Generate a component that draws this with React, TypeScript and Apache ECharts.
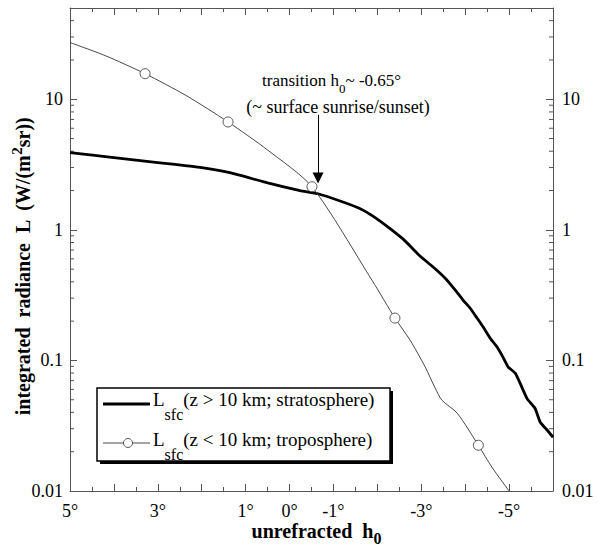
import React, { useEffect, useRef } from "react";
import * as echarts from "echarts";

// ---- data ----
const hStrat = [5, 4, 3, 2, 1.36, 0.5, -0.24, -0.65, -1.2, -1.61, -1.95, -2.29, -2.63, -2.97, -3.27, -3.54, -3.77, -3.95, -4.11, -4.27, -4.41, -4.57, -4.73, -4.86, -4.98, -5.14, -5.25, -5.41, -5.59, -5.71, -5.87, -6];
const vStrat = [3.9, 3.57, 3.27, 2.99, 2.74, 2.29, 2.0, 1.89, 1.64, 1.45, 1.24, 1.02, 0.823, 0.63, 0.52, 0.428, 0.347, 0.29, 0.252, 0.211, 0.18, 0.148, 0.126, 0.106, 0.089, 0.08, 0.067, 0.051, 0.043, 0.0336, 0.0292, 0.0258];

const hTropo = [5, 4.2, 3.29, 2.36, 1.4, 0.51, -0.51, -1.88, -2.4, -2.745, -3.09, -3.31, -3.47, -3.82, -4.3, -4.61, -5.0];
const vTropo = [27.2, 21.6, 15.7, 10.7, 6.7, 4.11, 2.14, 0.41, 0.211, 0.143, 0.089, 0.062, 0.0496, 0.0394, 0.0224, 0.0152, 0.01];
const tropoMarkerIdx = [2, 4, 6, 8, 14];

const xTickValues = [5, 3, 1, 0, -1, -3, -5];
const xTickLabels = ["5°", "3°", "1°", "0°", "-1°", "-3°", "-5°"];
const yTickValues = [0.01, 0.1, 1, 10];
const yTickLabels = ["0.01", "0.1", "1", "10"];
const yMinorTicks = [
  0.02, 0.03, 0.04, 0.05, 0.06, 0.07, 0.08, 0.09,
  0.2, 0.3, 0.4, 0.5, 0.6, 0.7, 0.8, 0.9,
  2, 3, 4, 5, 6, 7, 8, 9,
  20, 30, 40,
];

const transitionH = -0.65;
const arrowFrom = 7.6;
const arrowTo = 2.5;

const FONT = "Liberation Serif";
const AXIS_COLOR = "#555";

export default function App() {
  const ref = useRef<HTMLDivElement>(null);

  useEffect(() => {
    if (!ref.current) return;
    const chart = echarts.init(ref.current, null, { renderer: "svg" });

    const xFmt = (v: number) => {
      const i = xTickValues.findIndex((t) => Math.abs(t - v) < 1e-6);
      return i >= 0 ? xTickLabels[i] : "";
    };
    const yFmt = (v: number) => {
      const i = yTickValues.findIndex((t) => Math.abs(v / t - 1) < 1e-6);
      return i >= 0 ? yTickLabels[i] : "";
    };

    const xBase: any = {
      type: "value",
      min: -6,
      max: 5,
      interval: 1,
      inverse: true,
      axisLine: { show: true, onZero: false, lineStyle: { color: AXIS_COLOR, width: 1 } },
      axisTick: { show: true, inside: true, length: 7, lineStyle: { color: AXIS_COLOR } },
      minorTick: { show: true, splitNumber: 2, length: 4, lineStyle: { color: AXIS_COLOR } },
      splitLine: { show: false },
      minorSplitLine: { show: false },
    };
    const yBase: any = {
      type: "log",
      logBase: 10,
      min: 0.01,
      max: 50,
      axisLine: { show: true, onZero: false, lineStyle: { color: AXIS_COLOR, width: 1 } },
      axisTick: { show: true, inside: true, length: 7, lineStyle: { color: AXIS_COLOR } },
      splitLine: { show: false },
    };

    const tropoData = hTropo.map((h, i) =>
      tropoMarkerIdx.includes(i)
        ? { value: [h, vTropo[i]], symbol: "circle" }
        : { value: [h, vTropo[i]], symbol: "none" }
    );

    chart.setOption({
      animation: false,
      backgroundColor: "#fff",
      grid: { left: 70, right: 46, top: 8, bottom: 58, containLabel: false, outerBoundsMode: "none" },
      xAxis: [
        {
          ...xBase,
          position: "bottom",
          axisLabel: {
            show: true,
            margin: 11,
            lineHeight: 18,
            formatter: xFmt,
            fontFamily: FONT,
            fontSize: 18,
            color: "#000",
          },
          name: "{a|unrefracted  h}{s|0}",
          nameLocation: "middle",
          nameGap: 30,
          nameMoveOverlap: false,
          nameTextStyle: {
            padding: [0, 0, 0, 10],
            rich: {
              a: { fontFamily: FONT, fontSize: 20, fontWeight: "bold", lineHeight: 20, verticalAlign: "top", color: "#000" },
              s: { fontFamily: FONT, fontSize: 16, fontWeight: "bold", lineHeight: 16, padding: [9, 0, 0, 0], verticalAlign: "top", color: "#000" },
            },
          },
        },
        {
          ...xBase,
          position: "top",
          axisLabel: { show: false },
        },
      ],
      yAxis: [
        {
          ...yBase,
          position: "left",
          axisLabel: { show: true, margin: 7, formatter: yFmt, fontFamily: FONT, fontSize: 18, color: "#000" },
          name: "{a|integrated  radiance  L  (W/(m}{p|2}{a|sr))}",
          nameLocation: "middle",
          nameGap: 37,
          nameMoveOverlap: false,
          nameRotate: 90,
          nameTextStyle: {
            padding: [0, 34, 0, 0],
            rich: {
              a: { fontFamily: FONT, fontSize: 20, fontWeight: "bold", lineHeight: 24, verticalAlign: "bottom", color: "#000" },
              p: { fontFamily: FONT, fontSize: 15, fontWeight: "bold", lineHeight: 15, padding: [0, 0, 12, 0], verticalAlign: "top", color: "#000" },
            },
          },
        },
        {
          ...yBase,
          position: "right",
          axisLabel: { show: true, margin: 9, formatter: yFmt, fontFamily: FONT, fontSize: 18, color: "#000" },
        },
      ],
      series: [
        {
          name: "minorTicks",
          type: "custom",
          xAxisIndex: 0,
          yAxisIndex: 0,
          silent: true,
          z: 1,
          data: yMinorTicks.map((v) => [0, v]),
          encode: { x: 0, y: 1 },
          renderItem: (params: any, api: any) => {
            const v = api.value(1);
            const y = api.coord([0, v])[1];
            const cs = params.coordSys;
            return {
              type: "group",
              children: [
                { type: "line", shape: { x1: cs.x, y1: y, x2: cs.x + 4, y2: y }, style: { stroke: AXIS_COLOR, lineWidth: 1 } },
                { type: "line", shape: { x1: cs.x + cs.width - 4, y1: y, x2: cs.x + cs.width, y2: y }, style: { stroke: AXIS_COLOR, lineWidth: 1 } },
              ],
            };
          },
        },
        {
          name: "Lsfc(z > 10 km; stratosphere)",
          type: "line",
          xAxisIndex: 0,
          yAxisIndex: 0,
          data: hStrat.map((h, i) => [h, vStrat[i]]),
          symbol: "none",
          smooth: 0.15,
          lineStyle: { color: "#000", width: 2.8 },
          z: 3,
          markLine: {
            silent: true,
            symbol: ["none", "triangle"],
            symbolSize: 11,
            label: { show: false },
            lineStyle: { color: "#000", width: 1, type: "solid" },
            itemStyle: { color: "#000" },
            z: 6,
            data: [[{ coord: [transitionH, arrowFrom] }, { coord: [transitionH, arrowTo] }]],
          },
        },
        {
          name: "Lsfc(z < 10 km; troposphere)",
          type: "line",
          xAxisIndex: 0,
          yAxisIndex: 0,
          data: tropoData,
          showAllSymbol: true,
          symbolSize: 10,
          smooth: 0.25,
          lineStyle: { color: "#333", width: 0.9 },
          itemStyle: { color: "#fff", borderColor: "#444", borderWidth: 0.9 },
          z: 4,
        },
      ],
      graphic: [
        { type: "rect", shape: { x: 100, y: 391, width: 293, height: 73 }, style: { fill: "#000" }, z: 10 },
        { type: "rect", shape: { x: 97, y: 388, width: 293, height: 73 }, style: { fill: "#fff", stroke: "#000", lineWidth: 1.5 }, z: 11 },
        { type: "line", shape: { x1: 103, y1: 404, x2: 150, y2: 404 }, style: { stroke: "#000", lineWidth: 2.8 }, z: 12 },
        {
          type: "text",
          x: 153,
          y: 390,
          z: 12,
          style: {
            text: "{a|L}{s|sfc}{a|(z > 10 km; stratosphere)}",
            verticalAlign: "top",
            align: "left",
            rich: {
              a: { fontFamily: FONT, fontSize: 19, lineHeight: 22, verticalAlign: "top", fill: "#000" },
              s: { fontFamily: FONT, fontSize: 16, lineHeight: 16, padding: [16, 0, 0, 0], verticalAlign: "top", fill: "#000" },
            },
          },
        },
        { type: "line", shape: { x1: 103, y1: 443, x2: 150, y2: 443 }, style: { stroke: "#333", lineWidth: 0.9 }, z: 12 },
        { type: "circle", shape: { cx: 128, cy: 443, r: 4.5 }, style: { fill: "#fff", stroke: "#444", lineWidth: 0.9 }, z: 13 },
        {
          type: "text",
          x: 153,
          y: 430,
          z: 12,
          style: {
            text: "{a|L}{s|sfc}{a|(z < 10 km; troposphere)}",
            verticalAlign: "top",
            align: "left",
            rich: {
              a: { fontFamily: FONT, fontSize: 19, lineHeight: 22, verticalAlign: "top", fill: "#000" },
              s: { fontFamily: FONT, fontSize: 16, lineHeight: 16, padding: [16, 0, 0, 0], verticalAlign: "top", fill: "#000" },
            },
          },
        },
        {
          type: "text",
          x: 262,
          y: 72,
          z: 12,
          style: {
            text: "{a|transition h}{s|0}{a|~ -0.65°}",
            verticalAlign: "top",
            align: "left",
            rich: {
              a: { fontFamily: FONT, fontSize: 17, lineHeight: 20, verticalAlign: "top", fill: "#000" },
              s: { fontFamily: FONT, fontSize: 13, lineHeight: 13, padding: [10, 0, 0, 0], verticalAlign: "top", fill: "#000" },
            },
          },
        },
        {
          type: "text",
          x: 338,
          y: 107,
          z: 12,
          style: {
            text: "(~ surface sunrise/sunset)",
            fontFamily: FONT,
            fontSize: 18,
            fill: "#000",
            align: "center",
            verticalAlign: "middle",
          },
        },
      ],
    });

    return () => chart.dispose();
  }, []);

  return (
    <div
      ref={ref}
      style={{ position: "absolute", left: 0, top: 0, width: 599, height: 549, background: "#fff" }}
    />
  );
}
